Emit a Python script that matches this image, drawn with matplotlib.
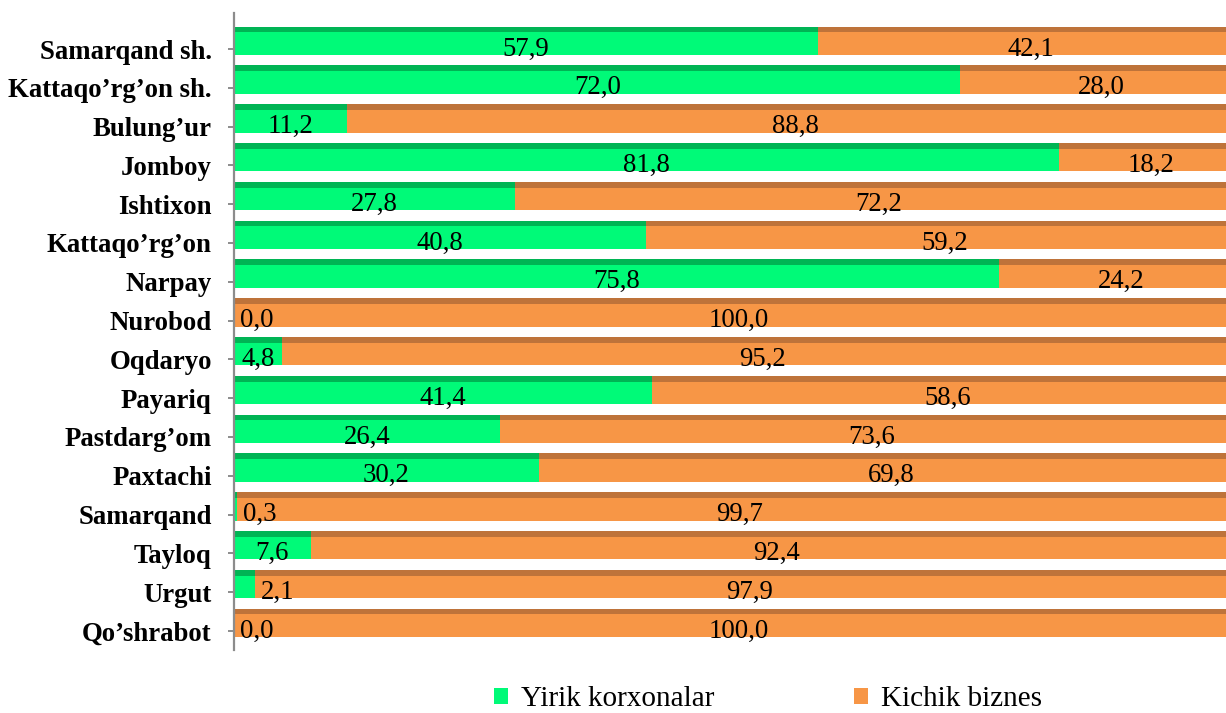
import matplotlib.pyplot as plt
import numpy as np

plt.rcParams["font.family"] = ["Liberation Serif", "DejaVu Serif"]

categories = [
    "Samarqand sh.", "Kattaqo’rg’on sh.", "Bulung’ur", "Jomboy", "Ishtixon",
    "Kattaqo’rg’on", "Narpay", "Nurobod", "Oqdaryo", "Payariq",
    "Pastdarg’om", "Paxtachi", "Samarqand", "Tayloq", "Urgut", "Qo’shrabot",
]
yirik = [57.9, 72.0, 11.2, 81.8, 27.8, 40.8, 75.8, 0.0, 4.8, 41.4, 26.4, 30.2, 0.3, 7.6, 2.1, 0.0]
kichik = [42.1, 28.0, 88.8, 18.2, 72.2, 59.2, 24.2, 100.0, 95.2, 58.6, 73.6, 69.8, 99.7, 92.4, 97.9, 100.0]
series_names = ["Yirik korxonalar", "Kichik biznes"]

GREEN, GREEN_DARK = "#00FA78", "#00B454"
ORANGE, ORANGE_DARK = "#F79646", "#BE733A"

fig = plt.figure(figsize=(12.26, 7.13), dpi=100)
# plot area runs a little past the right edge of the picture, as in the original
ax = fig.add_axes([234 / 1226, 1 - 650 / 713, 1009 / 1226, (650 - 13) / 713])

y = np.arange(len(categories))
bar_y = y - 0.21
bar_h = 0.73
stripe_h = 0.145
stripe_y = bar_y - bar_h / 2 + stripe_h / 2

ax.barh(bar_y, yirik, height=bar_h, color=GREEN, label=series_names[0])
ax.barh(bar_y, kichik, left=yirik, height=bar_h, color=ORANGE, label=series_names[1])
# darker top face, like the 3-D bars in the original
ax.barh(stripe_y, yirik, height=stripe_h, color=GREEN_DARK)
ax.barh(stripe_y, kichik, left=yirik, height=stripe_h, color=ORANGE_DARK)

label_size = 19.3
for i, (g, o) in enumerate(zip(yirik, kichik)):
    g_txt = f"{g:.1f}".replace(".", ",")
    o_txt = f"{o:.1f}".replace(".", ",")
    if g < 3:
        ax.text(g + 0.6, i + 0.17, g_txt, ha="left", va="baseline", fontsize=label_size)
    else:
        ax.text(g / 2, i + 0.17, g_txt, ha="center", va="baseline", fontsize=label_size)
    ax.text(g + o / 2, i + 0.17, o_txt, ha="center", va="baseline", fontsize=label_size)

ax.set_xlim(0, 100)
ax.set_ylim(15.49, -0.928)
ax.set_yticks(y)
ax.set_yticklabels(categories, fontsize=19.3, fontweight="bold")
ax.set_xticks([])
for side in ["top", "right", "bottom"]:
    ax.spines[side].set_visible(False)
ax.spines["left"].set_color("#8C8C8C")
ax.spines["left"].set_linewidth(1.6)
ax.tick_params(axis="y", length=4, width=1.4, color="#8C8C8C", pad=12)

handles, labels = ax.get_legend_handles_labels()
fig.legend(
    handles, labels, loc="center", bbox_to_anchor=(768 / 1226, 1 - 699 / 713),
    ncol=2, frameon=False, fontsize=21, handlelength=0.48, handleheight=0.48,
    handletextpad=0.45, columnspacing=4.8, borderpad=0,
)

fig.savefig("out.png", dpi=100)
